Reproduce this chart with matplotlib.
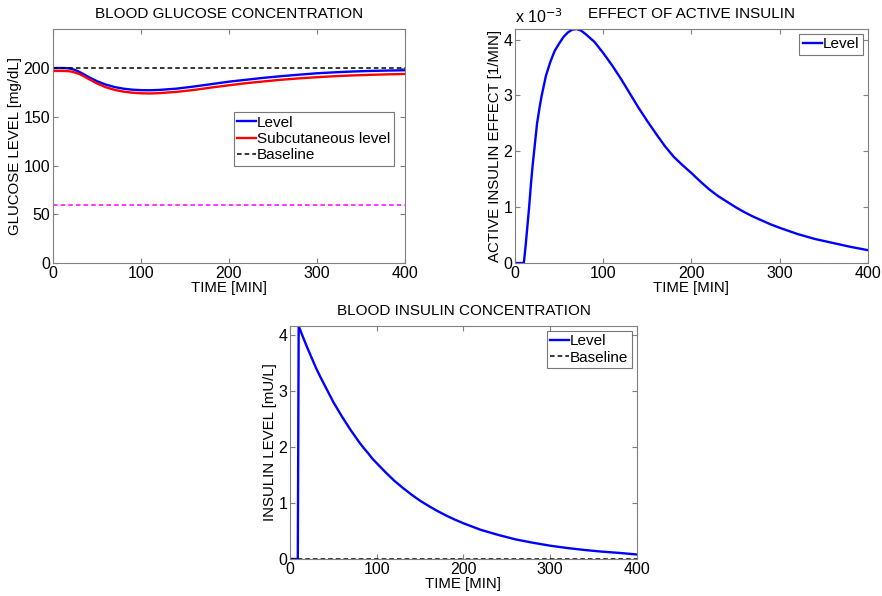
#!/usr/bin/env python3
"""Glucose / insulin simulation panels, redrawn from read-off values."""

import matplotlib
matplotlib.use("Agg")
import matplotlib.pyplot as plt

plt.rcParams["font.family"] = ["Liberation Sans", "DejaVu Sans"]
plt.rcParams["font.size"] = 10.5

# blood glucose [mg/dL]
t_glucose = [0, 10, 15, 20, 25, 30, 35, 40, 50, 60, 70, 80, 90, 100, 110, 120, 140, 160,
             180, 200, 220, 240, 260, 280, 300, 320, 340, 360, 380, 400]
glucose_level = [200, 200, 199.9, 199.4, 198, 196, 193.6, 191, 186.5, 183, 180.5, 178.8,
                 177.8, 177.3, 177.2, 177.5, 178.8, 181, 183.5, 186, 188, 190, 191.7,
                 193.2, 194.6, 195.6, 196.4, 197, 197.4, 197.7]
glucose_subcut = [197, 197, 196.9, 196.5, 195.4, 193.8, 191.6, 189, 184.2, 180.3, 177.6,
                  175.8, 174.7, 174.1, 173.9, 174.2, 175.5, 177.5, 180, 182.3, 184.5,
                  186.3, 188, 189.4, 190.6, 191.6, 192.4, 193, 193.5, 193.9]
glucose_baseline = 200
glucose_hypo = 60

# active insulin effect [1/min], in units of 1e-3
t_effect = [0, 10, 12, 14, 16, 18, 20, 22, 25, 28, 30, 35, 40, 45, 50, 55, 60, 65, 70,
            75, 80, 90, 100, 110, 120, 130, 140, 150, 160, 170, 180, 190, 200, 210, 220,
            230, 240, 250, 260, 270, 280, 290, 300, 320, 340, 360, 380, 400]
effect_level = [0, 0, 0.3, 0.65, 1.0, 1.4, 1.75, 2.05, 2.5, 2.8, 2.98, 3.35, 3.6, 3.8,
                3.93, 4.05, 4.13, 4.18, 4.19, 4.16, 4.1, 3.96, 3.76, 3.54, 3.3, 3.04, 2.78,
                2.54, 2.31, 2.09, 1.9, 1.75, 1.61, 1.46, 1.32, 1.2, 1.1, 1.0, 0.91, 0.83,
                0.76, 0.69, 0.63, 0.52, 0.43, 0.36, 0.29, 0.23]

# blood insulin [mU/L]
t_insulin = [0, 9, 10, 15, 20, 25, 30, 35, 40, 45, 50, 55, 60, 65, 70, 75, 80, 85, 90,
             95, 100, 110, 120, 130, 140, 150, 160, 170, 180, 190, 200, 220, 240, 260,
             280, 300, 320, 340, 360, 380, 400]
insulin_level = [0, 0, 4.16, 3.96, 3.77, 3.59, 3.41, 3.25, 3.10, 2.95, 2.80, 2.67, 2.54,
                 2.42, 2.30, 2.19, 2.08, 1.98, 1.89, 1.79, 1.71, 1.55, 1.40, 1.27, 1.15,
                 1.04, 0.945, 0.856, 0.776, 0.703, 0.637, 0.52, 0.43, 0.35, 0.29, 0.237,
                 0.195, 0.16, 0.131, 0.108, 0.08]
insulin_baseline = 0

SPINE = "#808080"
BLUE = "#0000ff"
RED = "#ff0000"


def style(ax):
    for s in ax.spines.values():
        s.set_color(SPINE)
        s.set_linewidth(0.8)
    ax.tick_params(direction="in", top=True, right=True, length=3.5,
                   color=SPINE, labelsize=11.5, pad=2)
    ax.set_xlim(0, 400)
    ax.set_xticks([0, 100, 200, 300, 400])


def legend(ax, **kw):
    leg = ax.legend(fancybox=False, handlelength=1.2, handletextpad=0.1,
                    borderpad=0.25, labelspacing=0.15, borderaxespad=0.3,
                    fontsize=11, **kw)
    leg.get_frame().set_edgecolor("#555555")
    leg.get_frame().set_linewidth(0.8)
    return leg


fig = plt.figure(figsize=(8.82, 5.96), dpi=100)

ax1 = fig.add_axes([0.0601, 0.5587, 0.399, 0.3926])
ax1.plot(t_glucose, glucose_level, color=BLUE, lw=1.7, label="Level")
ax1.plot(t_glucose, glucose_subcut, color=RED, lw=1.7, label="Subcutaneous level")
ax1.axhline(glucose_baseline, color="black", ls="--", lw=1.1, dashes=(3, 2), label="Baseline")
ax1.axhline(glucose_hypo, color="#ff00ff", ls="--", lw=1.1, dashes=(3, 2))
style(ax1)
ax1.set_ylim(0, 240)
ax1.set_yticks([0, 50, 100, 150, 200])
ax1.set_title("BLOOD GLUCOSE CONCENTRATION", fontsize=11, pad=8)
ax1.set_xlabel("TIME [MIN]", fontsize=10.8, labelpad=0)
ax1.set_ylabel("GLUCOSE LEVEL [mg/dL]", fontsize=10.8, labelpad=1)
legend(ax1, loc="upper left", bbox_to_anchor=(0.5, 0.665))

ax2 = fig.add_axes([0.5839, 0.5587, 0.4002, 0.3926])
ax2.plot(t_effect, effect_level, color=BLUE, lw=1.7, label="Level")
style(ax2)
ax2.set_ylim(0, max(effect_level))
ax2.set_yticks([0, 1, 2, 3, 4])
ax2.set_title("EFFECT OF ACTIVE INSULIN", fontsize=11, pad=8)
ax2.set_xlabel("TIME [MIN]", fontsize=10.8, labelpad=0)
ax2.set_ylabel("ACTIVE INSULIN EFFECT [1/MIN]", fontsize=10.8, labelpad=1)
ax2.text(0.0, 1.015, r"x 10$^{-3}$", transform=ax2.transAxes, fontsize=11.5,
         ha="left", va="bottom")
legend(ax2, loc="upper right")

ax3 = fig.add_axes([0.3288, 0.0621, 0.3934, 0.391])
ax3.plot(t_insulin, insulin_level, color=BLUE, lw=1.7, label="Level")
ax3.axhline(insulin_baseline, color="black", ls="--", lw=1.1, dashes=(3, 2), label="Baseline")
style(ax3)
ax3.set_ylim(0, max(insulin_level))
ax3.set_yticks([0, 1, 2, 3, 4])
ax3.set_title("BLOOD INSULIN CONCENTRATION", fontsize=11, pad=8)
ax3.set_xlabel("TIME [MIN]", fontsize=10.8, labelpad=0)
ax3.set_ylabel("INSULIN LEVEL [mU/L]", fontsize=10.8, labelpad=1)
legend(ax3, loc="upper right")

fig.savefig("out.png", dpi=100)
